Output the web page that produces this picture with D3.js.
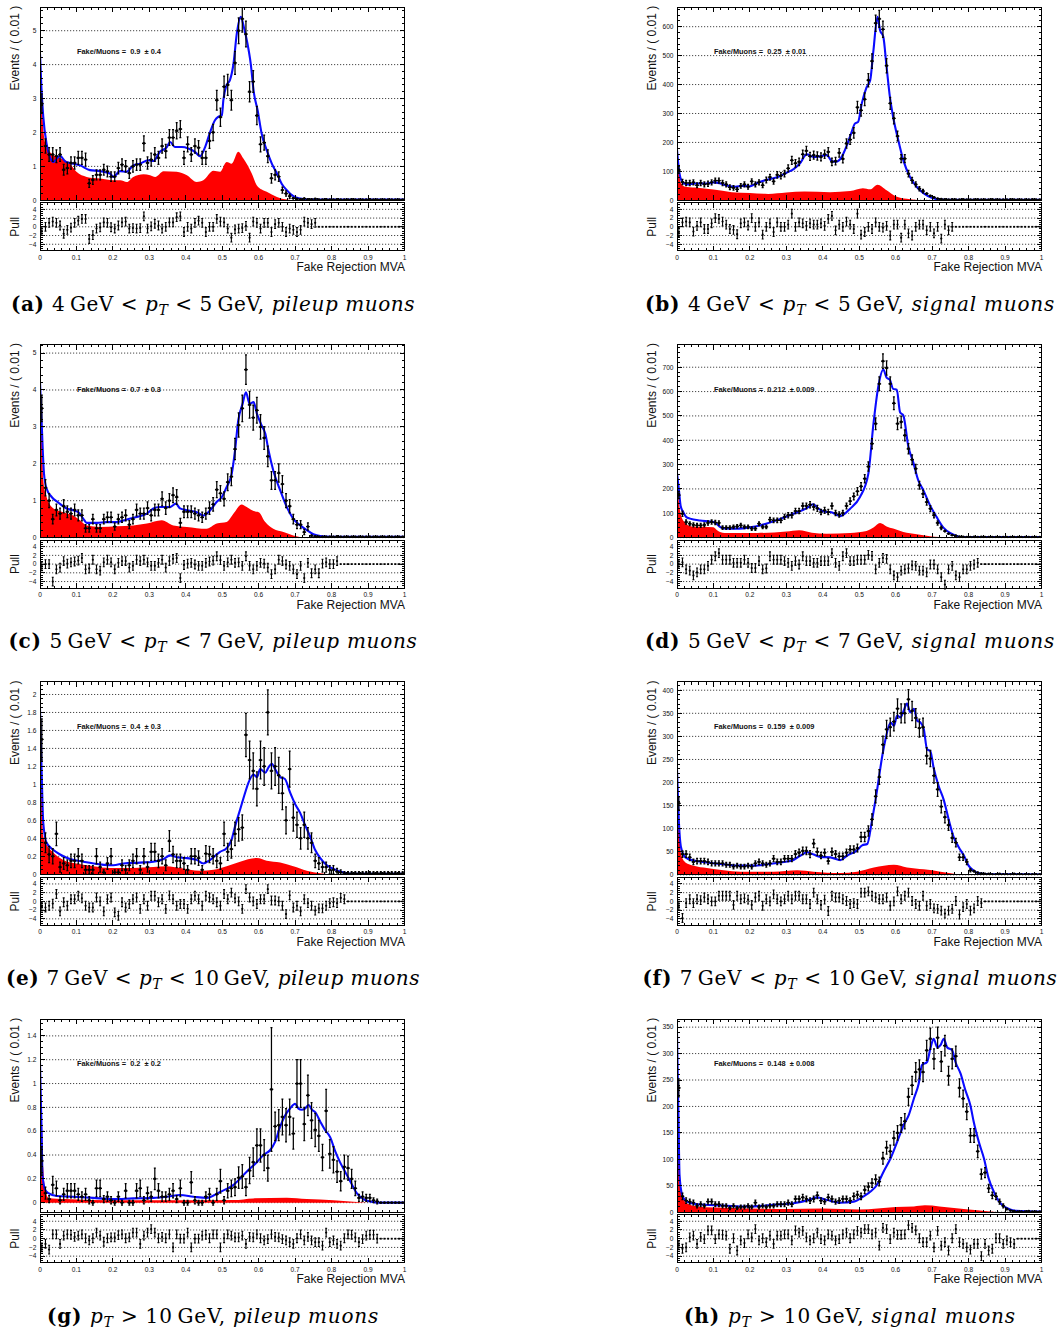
<!DOCTYPE html>
<html><head><meta charset="utf-8">
<script src="https://cdn.jsdelivr.net/npm/d3@7"></script>
<style>
html,body{margin:0;padding:0;background:#fff;}
svg{display:block;}
text{font-family:"Liberation Sans",Arial,sans-serif;}
</style></head><body>
<svg id="fig" width="1062" height="1331"></svg>
<script>
// ---- Fake Rejection MVA fits: 100 bins of width 0.01 on [0,1] ----
const BIN_W = 0.01;

// (a) 4 < pT < 5 GeV, pileup muons
const dataA = [2.85,1.6,1.35,1.35,1.3,1.35,0.9,0.95,1.1,1.1,1.25,1.25,1.2,0.5,0.6,0.75,0.75,0.9,0.85,0.7,0.7,0.95,1.05,1.0,0.8,1.0,1.05,1.05,1.68,1.1,1.2,1.35,1.25,1.6,1.45,1.85,1.85,2.05,2.1,1.25,1.65,1.35,1.6,1.55,1.25,1.25,1.75,2.0,2.95,2.45,3.35,3.4,2.95,4.05,5.0,5.35,4.9,3.2,3.5,2.5,1.65,1.7,1.3,0.65,0.75,0.7,0.3,0.2,0.12,0.06,0.04,0.03,0.05,0.03,0.03,0.04,0.02,0.02,0.03,0.02,0.02,0.03,0.02,0.02,0.02,0.03,0.02,0.02,0.02,0.02,0.03,0.02,0.02,0.02,0.02,0.02,0.02,0.02,0.02,0.02];
const errA = [0.29,0.21,0.2,0.2,0.19,0.2,0.16,0.17,0.18,0.18,0.19,0.19,0.19,0.12,0.13,0.15,0.15,0.16,0.16,0.14,0.14,0.17,0.17,0.17,0.15,0.17,0.17,0.17,0.22,0.18,0.19,0.2,0.19,0.21,0.2,0.23,0.23,0.24,0.25,0.19,0.22,0.2,0.21,0.21,0.19,0.19,0.22,0.24,0.29,0.27,0.31,0.31,0.29,0.34,0.38,0.39,0.38,0.3,0.32,0.27,0.22,0.22,0.19,0.14,0.15,0.14,0.09,0.08,0.06,0.04,0.03,0.03,0.04,0.03,0.03,0.03,0.02,0.02,0.03,0.02,0.02,0.03,0.02,0.02,0.02,0.03,0.02,0.02,0.02,0.02,0.03,0.02,0.02,0.02,0.02,0.02,0.02,0.02,0.02,0.02];
const pullA = [-1,0,0.9,1.2,0.9,0.3,-1.6,-0.7,-0.2,0.9,1.4,1.8,1.8,-2.8,-1.9,-0.4,-0.15,1.0,0.9,-0.1,-0.4,0.3,1,1.2,-0.4,-0.3,-0.4,-0.3,2.4,-0.4,0.1,0.7,0.3,-0.4,0,1,1,2.2,2.4,-1.2,0,-0.4,0.9,1.4,0.9,-1.2,0,0,1.8,1.2,1,-0.4,-2.5,-0.6,-0.4,-0.3,0.2,-2.5,1.2,0.9,-0.4,0.9,0.9,-1.2,0.6,0.9,0,-1.2,-0.4,-0.7,-1.2,-0.7,1.2,0.9,0.6,0.9];
const fitA = [[0,4.33],[0.004,3.3],[0.009,2.46],[0.018,1.67],[0.027,1.28],[0.037,1.13],[0.046,1.23],[0.055,1.31],[0.069,1.15],[0.082,1.1],[0.11,1.03],[0.137,0.89],[0.165,0.86],[0.192,0.79],[0.201,0.69],[0.22,0.86],[0.238,0.84],[0.256,1.03],[0.274,1.08],[0.297,1.18],[0.311,1.16],[0.329,1.43],[0.348,1.57],[0.357,1.72],[0.37,1.57],[0.389,1.57],[0.407,1.53],[0.425,1.43],[0.439,1.3],[0.453,1.57],[0.467,2.02],[0.48,2.36],[0.489,2.46],[0.499,2.51],[0.503,2.95],[0.512,3.4],[0.521,3.54],[0.531,4.04],[0.54,4.92],[0.551,5.41],[0.56,5.07],[0.569,4.63],[0.578,4.04],[0.587,3.15],[0.597,2.66],[0.608,1.97],[0.622,1.48],[0.636,1.08],[0.65,0.79],[0.663,0.49],[0.677,0.3],[0.695,0.12],[0.714,0.05],[0.74,0.02],[1,0.02]];
const bkgA = [[0,4.33],[0.005,3.0],[0.01,1.97],[0.018,1.57],[0.037,1.33],[0.065,1.2],[0.08,1.1],[0.1,0.84],[0.128,0.69],[0.165,0.64],[0.2,0.59],[0.22,0.59],[0.238,0.54],[0.256,0.69],[0.284,0.77],[0.302,0.74],[0.316,0.69],[0.339,0.86],[0.375,0.84],[0.403,0.74],[0.43,0.54],[0.448,0.59],[0.476,0.87],[0.494,0.84],[0.512,1.13],[0.526,1.08],[0.544,1.43],[0.558,1.23],[0.581,0.79],[0.595,0.44],[0.622,0.25],[0.65,0.1],[0.677,0.02],[0.7,0],[1,0]];

// (b) 4 < pT < 5 GeV, signal muons
const dataB = [105,63,60,60,62,52,60,55,57,62,68,68,60,55,45,43,38,50,55,47,65,55,62,52,70,80,65,88,85,92,110,138,128,133,159,171,152,156,153,150,159,167,133,135,164,143,196,210,233,321,311,349,415,481,612,627,591,465,335,283,222,144,144,92,69,55,40,32,23,15,10,6,4,3,2,3,2,2,3,2,2,2,3,2,2,2,3,2,2,2,2,3,2,2,2,2,2,3,2,2];
const errB = [12,9,9,9,9,8,9,9,9,9,9,9,9,9,8,8,7,8,9,8,9,9,9,8,10,10,9,11,11,11,12,14,13,13,14,15,14,14,14,14,14,15,13,13,15,14,16,17,18,21,20,22,23,25,28,29,28,25,21,19,17,14,14,11,10,9,7,6,5,4,3.5,3,2.2,2,1.6,2,1.6,1.6,2,1.6,1.6,1.6,2,1.6,1.6,1.6,2,1.6,1.6,1.6,1.6,2,1.6,1.6,1.6,1.6,1.6,2,1.6,1.6];
const pullB = [-1.2,1.0,1.2,1.0,-1.1,0.2,1.0,-0.5,-0.5,0.8,2.0,1.8,1.2,0.5,-0.5,-0.7,-1.7,0.8,1.0,0.3,2.0,0.0,1.0,-1.8,0.0,0.8,-1.2,1.0,0.0,0.0,0.5,3.0,0.0,1.0,0.8,0.2,0.8,0.5,0.5,0.8,0.2,1.8,2.5,-0.8,0.5,0.0,1.2,0.5,-0.5,3.0,-1.8,-1.2,0.0,-0.5,1.0,0.0,-0.2,0.2,-2.0,0.5,0.5,-2.5,0.5,-1.5,-2.0,0.0,0.5,0.5,-0.8,0.0,-1.5,0.0,-2.7,0.5,-0.8,0.0];
const fitB = [[0,175],[0.005,110],[0.01,75],[0.02,58],[0.03,55],[0.05,58],[0.08,58],[0.1,62],[0.12,58],[0.14,50],[0.16,47],[0.18,50],[0.2,48],[0.22,60],[0.25,72],[0.28,82],[0.3,95],[0.32,108],[0.337,127],[0.356,159],[0.374,150],[0.392,152],[0.411,156],[0.424,136],[0.436,133],[0.452,150],[0.466,190],[0.479,236],[0.488,265],[0.497,271],[0.507,335],[0.52,390],[0.53,415],[0.539,519],[0.55,634],[0.557,588],[0.566,565],[0.575,461],[0.584,358],[0.593,288],[0.607,208],[0.621,138],[0.639,81],[0.658,46],[0.676,25],[0.699,9],[0.72,3],[0.76,2],[1,2]];
const bkgB = [[0,167],[0.005,110],[0.01,62],[0.02,48],[0.05,44],[0.1,37],[0.15,28],[0.2,25],[0.25,22],[0.3,27],[0.35,30],[0.42,28],[0.475,32],[0.51,42],[0.53,38],[0.55,54],[0.575,35],[0.6,14],[0.63,5],[0.66,1],[0.7,0],[1,0]];

// (c) 5 < pT < 7 GeV, pileup muons
const dataC = [3.5,1.35,1.0,0.5,0.75,0.65,0.85,0.7,0.65,0.75,0.6,0.6,0.25,0.25,0.5,0.25,0.25,0.5,0.55,0.55,0.3,0.5,0.55,0.6,0.35,0.5,0.75,0.65,0.65,0.8,0.6,0.75,0.75,1.05,0.8,1.0,1.15,1.1,0.4,0.7,0.7,0.7,0.65,0.6,0.55,0.65,0.8,0.9,1.3,1.2,1.05,1.5,1.65,2.4,3.05,3.5,4.55,3.6,3.25,3.45,3.0,2.7,2.2,1.55,1.55,1.75,1.45,1.0,0.85,0.5,0.35,0.35,0.15,0.3,0.05,0.03,0.02,0.02,0.02,0.02,0.02,0.03,0.02,0.02,0.02,0.02,0.02,0.02,0.02,0.02,0.02,0.02,0.02,0.02,0.02,0.02,0.02,0.02,0.02,0.02];
const errC = [0.36,0.22,0.19,0.13,0.16,0.15,0.18,0.16,0.15,0.16,0.15,0.15,0.1,0.1,0.13,0.1,0.1,0.13,0.14,0.14,0.1,0.13,0.14,0.15,0.11,0.13,0.16,0.15,0.15,0.17,0.15,0.16,0.16,0.19,0.17,0.19,0.2,0.2,0.12,0.16,0.16,0.16,0.15,0.15,0.14,0.15,0.17,0.18,0.22,0.21,0.19,0.23,0.24,0.29,0.33,0.36,0.4,0.36,0.34,0.35,0.33,0.31,0.28,0.24,0.24,0.25,0.23,0.19,0.18,0.13,0.11,0.11,0.07,0.1,0.04,0.03,0.03,0.03,0.03,0.03,0.03,0.03,0.03,0.03,0.03,0.03,0.03,0.03,0.03,0.03,0.03,0.03,0.03,0.03,0.03,0.03,0.03,0.03,0.03,0.03];
const pullC = [-0.5,0,0,-4,-1.2,-0.8,0.7,0.1,0.4,0.6,0.8,1.4,-1.2,-1,1,-1.2,-1.5,0.4,1,0.4,-1.2,0.3,0.7,0.7,-0.8,-0.4,1,0.7,1,0.4,-0.4,-0.4,0.3,1,-0.8,0.7,1.2,1.4,-3.2,-0.2,0.1,0.3,-0.1,-0.4,-0.4,0.3,0.6,0.8,1.8,0.9,-0.4,0.4,1,0.3,0.4,-0.4,1.8,-0.4,-1.2,-0.4,0.3,0.1,-0.8,-2.3,-1.2,1,0.7,-0.1,-0.4,-1.2,-2.3,-0.4,-3.2,0.3,-2.1,-1.2,-2.1,0.1,0.4,0,0,0.7];
const fitC = [[0,4.21],[0.005,3.0],[0.011,1.73],[0.018,1.33],[0.032,1.1],[0.05,0.95],[0.073,0.79],[0.091,0.74],[0.105,0.69],[0.119,0.51],[0.128,0.4],[0.156,0.4],[0.183,0.42],[0.21,0.42],[0.238,0.49],[0.265,0.56],[0.293,0.65],[0.311,0.79],[0.329,0.83],[0.357,0.83],[0.373,0.92],[0.384,0.79],[0.403,0.74],[0.43,0.69],[0.448,0.6],[0.467,0.74],[0.485,0.97],[0.499,1.1],[0.512,1.37],[0.526,1.73],[0.535,2.36],[0.544,3.18],[0.556,3.63],[0.565,3.94],[0.575,3.63],[0.586,3.67],[0.595,3.36],[0.608,3.04],[0.618,2.82],[0.627,2.36],[0.64,1.82],[0.659,1.28],[0.677,0.83],[0.695,0.51],[0.714,0.33],[0.732,0.2],[0.75,0.09],[0.769,0.04],[0.8,0.02],[1,0.02]];
const bkgC = [[0,4.2],[0.005,3.1],[0.009,1.55],[0.018,1.1],[0.037,0.79],[0.064,0.69],[0.091,0.6],[0.11,0.47],[0.128,0.33],[0.165,0.29],[0.21,0.31],[0.256,0.33],[0.293,0.38],[0.334,0.47],[0.366,0.33],[0.403,0.29],[0.457,0.24],[0.485,0.38],[0.512,0.42],[0.531,0.65],[0.553,0.9],[0.567,0.83],[0.586,0.72],[0.6,0.69],[0.618,0.42],[0.64,0.24],[0.668,0.15],[0.695,0.06],[0.73,0],[1,0]];

// (d) 5 < pT < 7 GeV, signal muons
const dataD = [175,98,64,57,52,50,50,52,60,64,62,60,41,41,41,44,46,50,44,44,37,37,57,44,44,74,71,71,71,85,92,92,109,109,130,130,135,126,120,105,112,105,130,101,95,101,130,150,169,190,210,242,292,386,468,632,725,697,632,552,468,475,420,365,320,283,215,180,146,119,92,60,40,27,16,10,8,4,3,2,2,3,2,3,2,2,2,2,2,2,2,2,2,2,2,2,2,2,2,2];
const errD = [15,11,9,8,8,8,8,8,9,9,9,9,7,7,7,7,7,8,7,7,7,7,8,7,7,9,9,9,9,10,11,11,11,11,12,12,13,12,12,11,12,11,12,11,11,11,12,13,14,15,16,17,19,21,24,28,30,29,28,26,24,24,23,21,20,18,16,15,13,12,11,9,7,6,4,3.5,3,2,2,1.6,1.6,2,1.6,2,1.6,1.6,1.6,1.6,1.6,1.6,1.6,1.6,1.6,1.6,1.6,1.6,1.6,1.6,1.6,1.6];
const pullD = [0,0.4,-1.2,-1.5,-2.6,-1.9,-1.2,-1.2,-0.4,1,1.8,2.5,1,1,1,0.3,0.3,0.3,1,0.3,-0.9,-0.9,0.7,-1.2,-1,1.8,1,1,1,0.7,0.3,-0.4,0.7,-0.1,1.8,0.7,0.7,0.3,0.3,0.7,0.7,0.7,2.5,0.3,-0.4,1.8,2.5,0.7,0.7,1,1,1,2.1,1.9,-1.2,0.3,1.4,1.2,-1.2,-2.6,-3,-1.5,-1.2,-1,-0.3,-0.4,-1.5,-1.5,-1.9,-0.1,-0.1,-1.2,-3.0,-4.7,-1.2,-0.4,-2.6,-3,-1.2,-1.2,-0.4,-0.1,0.3];
const fitD = [[0,265],[0.005,200],[0.01,130],[0.017,105],[0.025,85],[0.036,78],[0.063,70],[0.09,66],[0.1,64],[0.11,55],[0.118,44],[0.13,38],[0.17,37],[0.2,42],[0.228,50],[0.273,71],[0.319,98],[0.356,121],[0.374,137],[0.388,119],[0.41,105],[0.42,105],[0.448,89],[0.475,119],[0.502,167],[0.525,263],[0.539,468],[0.552,618],[0.566,690],[0.575,657],[0.584,648],[0.593,611],[0.603,608],[0.612,515],[0.621,502],[0.635,372],[0.648,310],[0.662,235],[0.676,194],[0.694,133],[0.712,85],[0.731,41],[0.749,19],[0.767,7],[0.785,2],[1,2]];
const bkgD = [[0,250],[0.005,150],[0.01,98],[0.02,65],[0.04,46],[0.1,43],[0.11,30],[0.13,19],[0.22,19],[0.3,25],[0.335,30],[0.37,20],[0.41,16],[0.475,19],[0.52,27],[0.539,41],[0.557,60],[0.575,46],[0.593,37],[0.621,23],[0.658,14],[0.694,6],[0.72,2],[0.75,0],[1,0]];

// (e) 7 < pT < 10 GeV, pileup muons
const dataE = [1.5,0.35,0.22,0.2,0.45,0.08,0.12,0.1,0.15,0.15,0.2,0.15,0.05,0.05,0.05,0.2,0.08,0.02,0.12,0.2,0.02,0.02,0.1,0.05,0.1,0.15,0.2,0.05,0.2,0.08,0.25,0.25,0.15,0.2,0.1,0.37,0.22,0.15,0.15,0.12,0.05,0.2,0.2,0.18,0.05,0.23,0.22,0.2,0.15,0.12,0.45,0.25,0.28,0.45,0.5,0.52,1.55,1.27,1.15,0.95,1.27,1.2,1.8,1.15,1.2,1.1,0.9,0.6,1.17,0.63,0.55,0.4,0.55,0.4,0.35,0.15,0.12,0.08,0.08,0.05,0.05,0.03,0.02,0.01,0.01,0.01,0.01,0.01,0.01,0.01,0.01,0.01,0.01,0.01,0.01,0.01,0.01,0.01,0.01,0.01];
const errE = [0.23,0.11,0.09,0.085,0.13,0.055,0.065,0.06,0.075,0.075,0.085,0.075,0.045,0.045,0.045,0.085,0.055,0.03,0.065,0.085,0.03,0.03,0.06,0.045,0.06,0.075,0.085,0.045,0.085,0.055,0.095,0.095,0.075,0.085,0.06,0.115,0.09,0.075,0.075,0.065,0.045,0.085,0.085,0.08,0.045,0.09,0.09,0.085,0.075,0.065,0.13,0.095,0.1,0.13,0.13,0.14,0.24,0.21,0.2,0.19,0.21,0.21,0.25,0.2,0.21,0.2,0.18,0.15,0.2,0.15,0.14,0.12,0.14,0.12,0.11,0.075,0.065,0.055,0.055,0.045,0.045,0.035,0.03,0.02,0.02,0.02,0.02,0.02,0.02,0.02,0.02,0.02,0.02,0.02,0.02,0.02,0.02,0.02,0.02,0.02];
const pullE = [-1.2,-1.4,-1,-0.5,1.7,-2.3,-0.2,-1,0.5,0.5,1.3,0.7,-1,-1.4,-1.4,0.9,0,-2.3,0.5,0.9,-2.5,-3.3,-0.2,-1.4,-0.6,0.5,0.9,-1.7,0.5,-1,1.3,1.3,-0.2,0.5,-1.7,1.4,0.5,-1,-0.6,-0.6,-1.7,0.5,1.3,0.5,-1,1.3,0.9,0.5,-0.2,-1,1.7,0.5,2.0,0.7,0,-1.7,2.8,0.9,0,-0.6,0.5,0.5,2.8,0.2,0.2,0,-1,-2.9,1.4,-1.4,-1,-2.3,0.5,-0.4,-1,-2.1,-1.6,-1.6,-1,-0.4,-0.2,-0.4,0.8,0.5];
const fitE = [[0,1.84],[0.005,1.06],[0.009,0.57],[0.018,0.35],[0.037,0.27],[0.055,0.22],[0.082,0.17],[0.119,0.14],[0.165,0.11],[0.201,0.1],[0.229,0.12],[0.274,0.13],[0.311,0.14],[0.339,0.17],[0.357,0.21],[0.375,0.19],[0.403,0.18],[0.43,0.16],[0.448,0.12],[0.467,0.16],[0.494,0.25],[0.512,0.29],[0.526,0.39],[0.535,0.53],[0.549,0.72],[0.563,0.91],[0.572,1.02],[0.586,1.11],[0.595,1.08],[0.604,1.17],[0.618,1.13],[0.627,1.19],[0.636,1.23],[0.645,1.17],[0.659,1.08],[0.672,1.06],[0.686,0.91],[0.7,0.78],[0.714,0.68],[0.727,0.55],[0.741,0.42],[0.755,0.27],[0.769,0.18],[0.787,0.1],[0.805,0.06],[0.833,0.02],[0.86,0.005],[1,0.005]];
const bkgE = [[0,1.84],[0.005,0.9],[0.009,0.42],[0.018,0.33],[0.037,0.24],[0.064,0.16],[0.1,0.12],[0.146,0.09],[0.192,0.07],[0.256,0.07],[0.311,0.08],[0.348,0.09],[0.384,0.07],[0.439,0.04],[0.476,0.05],[0.512,0.09],[0.549,0.14],[0.595,0.18],[0.622,0.15],[0.659,0.13],[0.695,0.09],[0.732,0.04],[0.769,0.01],[0.8,0],[1,0]];

// (f) 7 < pT < 10 GeV, signal muons
const dataF = [155,45,45,38,28,30,30,30,28,25,25,25,25,22,22,18,20,18,18,20,18,25,28,25,22,25,35,28,28,35,35,35,45,48,52,52,45,68,50,42,48,30,50,45,40,40,48,55,55,58,82,82,95,120,170,212,282,315,320,332,360,350,350,380,355,340,318,320,258,252,215,185,148,125,108,80,70,38,38,28,10,8,5,3,2,2,1,1,2,1,1,1,2,1,1,1,1,1,1,1];
const errF = [14,7,7,7,6,6,6,6,6,5.5,5.5,5.5,5.5,5,5,4.7,5,4.7,4.7,5,4.7,5.5,6,5.5,5,5.5,6.5,6,6,6.5,6.5,6.5,7.4,7.6,8,8,7.4,9,7.8,7,7.6,6,7.8,7.4,7,7,7.6,8,8,8.4,10,10,11,12,14,16,18.5,19.5,19.7,20,21,20.6,20.6,21.4,20.7,20.3,19.6,19.7,17.7,17.5,16,15,13.4,12.3,11.4,9.8,9.2,6.8,6.8,5.8,3.5,3.1,2.5,1.9,1.6,1.6,1.1,1.1,1.6,1.1,1.1,1.1,1.6,1.1,1.1,1.1,1.1,1.1,1.1,1.1];
const pullF = [-1,-3.8,-0.4,0.5,-0.4,0.5,0.3,0.9,0.5,0,0,1.3,1.3,1.3,1.3,-0.8,1.3,0.5,0.7,0.4,-0.8,0.9,1.3,-1,0.5,0,1.6,0.5,0,0.5,1.3,0.5,1.3,1.3,0.5,0.5,-0.6,2.0,0.5,-0.8,0.4,-2.2,1.3,0.9,0.9,0.5,0.1,-0.6,-0.4,-0.6,2.0,2.0,2.3,1.3,0.9,0.5,0.5,0.9,-1,0,2.3,0.5,1.3,2.0,0.1,-0.6,-1,1.3,-1,-0.6,-1.6,-1.7,-2.1,-2.8,-2.1,-1.7,0.1,-3,-1.3,-0.6,-2.1,-1.6,0.1,-0.4];
const fitF = [[0,228],[0.005,118],[0.011,60],[0.023,38],[0.046,31],[0.082,27],[0.128,23],[0.174,20],[0.21,20],[0.247,23],[0.284,27],[0.316,31],[0.339,42],[0.357,49],[0.375,44],[0.393,39],[0.421,38],[0.448,32],[0.467,42],[0.494,53],[0.508,64],[0.522,67],[0.535,118],[0.549,184],[0.563,257],[0.572,294],[0.586,330],[0.595,323],[0.604,345],[0.613,341],[0.622,356],[0.631,371],[0.64,352],[0.65,360],[0.659,334],[0.668,330],[0.677,316],[0.686,272],[0.695,268],[0.704,232],[0.718,192],[0.732,162],[0.746,118],[0.759,82],[0.773,60],[0.787,42],[0.8,20],[0.814,9],[0.833,3],[0.86,1.5],[1,1]];
const bkgF = [[0,225],[0.005,120],[0.011,45],[0.023,27],[0.046,20],[0.082,15],[0.128,10],[0.174,7],[0.265,7],[0.33,10],[0.375,7],[0.448,4],[0.494,7],[0.54,16],[0.595,22],[0.631,16],[0.677,12],[0.723,7],[0.769,1.5],[0.8,0],[1,0]];

// (g) pT > 10 GeV, pileup muons
const dataG = [0.35,0.08,0.03,0.15,0.12,0.02,0.07,0.1,0.1,0.1,0.07,0.05,0.07,0.02,0.0,0.12,0.12,0.03,0.05,0.02,0.0,0.05,0.0,0.1,0.0,0.0,0.1,0.12,0.02,0.08,0.05,0.2,0.1,0.05,0.05,0.07,0.1,0.03,0.12,0.0,0.0,0.17,0.02,0.0,0.0,0.05,0.07,0.0,0.07,0.18,0.02,0.1,0.12,0.13,0.21,0.22,0.13,0.27,0.34,0.48,0.48,0.4,0.29,0.95,0.64,0.65,0.72,0.65,0.72,0.58,1.0,1.0,0.66,0.9,0.69,0.61,0.56,0.38,0.77,0.41,0.36,0.26,0.18,0.3,0.29,0.2,0.12,0.04,0.05,0.04,0.04,0.02,0.01,0,0,0,0,0,0,0];
const errG = [0.12,0.05,0.03,0.07,0.06,0.03,0.05,0.06,0.06,0.06,0.05,0.04,0.05,0.03,0.02,0.07,0.07,0.03,0.04,0.03,0.02,0.04,0.02,0.06,0.02,0.02,0.06,0.07,0.03,0.05,0.04,0.09,0.06,0.04,0.04,0.05,0.06,0.03,0.07,0.02,0.02,0.09,0.03,0.02,0.02,0.04,0.05,0.02,0.05,0.1,0.03,0.06,0.07,0.07,0.09,0.1,0.07,0.11,0.12,0.14,0.14,0.13,0.11,0.52,0.12,0.13,0.15,0.14,0.15,0.13,0.2,0.2,0.14,0.17,0.15,0.14,0.13,0.11,0.18,0.12,0.11,0.09,0.08,0.1,0.1,0.08,0.06,0.03,0.04,0.03,0.03,0.02,0.02,0,0,0,0,0,0,0];
const pullG = [-2,-1.2,-2.5,1,1,-1.2,0.7,1,0.9,0.4,0.7,1,0.1,-0.4,0.1,1.4,0.7,-0.7,0.1,0.3,0.3,0.8,1,0.1,0.3,1.4,1.4,-1.2,0.7,1.4,2.2,1.4,0.1,0.4,0.1,1,-2,1,0,0,1.4,-2,0,0,0.7,0.9,0.1,1,1,-2,0.1,1,0.7,0.3,0.3,0.7,-1.2,0.4,0.3,1,0.1,-0.4,-0.1,1,0.4,0.3,-0.1,-0.4,-0.8,-1.2,0.1,1,-0.4,0.4,-0.4,-0.8,-0.8,-1.6,1.4,-0.8,-0.4,-1.2,-1.6,0.1,1,0.9,0.3,-0.8,-0.1,0.7,0.9,0.9,0];
const fitG = [[0,1.17],[0.004,0.65],[0.007,0.23],[0.014,0.11],[0.023,0.08],[0.046,0.056],[0.091,0.05],[0.146,0.04],[0.2,0.03],[0.256,0.036],[0.311,0.04],[0.348,0.05],[0.384,0.064],[0.421,0.05],[0.457,0.04],[0.494,0.09],[0.531,0.15],[0.567,0.26],[0.595,0.34],[0.613,0.4],[0.631,0.44],[0.645,0.51],[0.659,0.64],[0.672,0.73],[0.686,0.79],[0.7,0.83],[0.709,0.79],[0.718,0.78],[0.727,0.79],[0.737,0.82],[0.746,0.78],[0.755,0.76],[0.769,0.68],[0.782,0.61],[0.796,0.55],[0.81,0.43],[0.823,0.34],[0.837,0.26],[0.851,0.18],[0.869,0.08],[0.887,0.03],[0.906,0.01],[0.933,0],[1,0]];
const bkgG = [[0,1.17],[0.005,0.73],[0.009,0.29],[0.014,0.12],[0.023,0.04],[0.07,0.03],[0.2,0.02],[0.4,0.02],[0.531,0.022],[0.585,0.036],[0.677,0.042],[0.732,0.03],[0.805,0.02],[0.86,0.008],[0.9,0],[1,0]];

// (h) pT > 10 GeV, signal muons
const dataH = [235,30,22,20,18,12,15,12,20,20,15,15,12,12,8,12,8,10,10,12,10,18,10,12,10,12,12,15,15,15,18,15,25,25,28,25,22,25,32,22,20,28,25,20,22,25,25,22,30,33,30,42,48,55,62,58,102,122,115,140,150,165,172,218,240,265,270,265,306,328,290,330,285,315,258,290,295,235,215,190,145,145,115,72,75,45,32,30,20,12,6,3,2,1,1,1,2,1,1,1];
const errH = [17,6,5.2,4.9,4.7,3.8,4.3,3.8,4.9,4.9,4.3,4.3,3.8,3.8,3.1,3.8,3.1,3.5,3.5,3.8,3.5,4.7,3.5,3.8,3.5,3.8,3.8,4.3,4.3,4.3,4.7,4.3,5.5,5.5,5.8,5.5,5.2,5.5,6.2,5.2,4.9,5.8,5.5,4.9,5.2,5.5,5.5,5.2,6,6.3,6,7.1,7.6,8.2,8.7,8.4,11,12,11.8,13,13.5,14,14.4,16,17,18,18,18,19,20,19,20,18.6,19.5,17.7,19,19,17,16,15,13,13,11.8,9.3,9.5,7.4,6.2,6,4.9,3.8,2.7,1.9,1.6,1.1,1.1,1.1,1.6,1.1,1.1,1.1];
const pullH = [-1.5,-2.3,-2,0.3,0.7,-1.2,0.4,-0.1,1.9,1.9,-0.1,1,0.9,0.7,-2.3,0.1,-2.7,-0.4,-1,1,0.3,2.2,-0.4,0.1,-0.8,0.7,-1.2,0.7,0.7,1,1,-0.4,1.9,1.4,1.8,0.3,-0.4,0.1,1.4,-0.1,-0.4,1,0.7,-0.4,-0.1,1,1.4,0.1,1,1.8,1.4,2.2,2.2,1,1.4,-1.6,2.5,2.2,-0.1,1.4,0.9,0.9,1,3.1,2.5,1.9,0.1,-0.8,-0.8,0.7,-2,1.8,-1.6,-0.8,-2.7,0.1,2.2,-0.8,-1.2,-2,-2.5,-1.2,-1.2,-4,-1.2,-2.7,-2.3,0.1,0.1,-1.2,-0.4,-0.8,-1.2];
const fitH = [[0,340],[0.004,183],[0.007,70],[0.014,33],[0.027,20],[0.055,15],[0.128,12.6],[0.192,10.7],[0.265,14],[0.32,17],[0.357,22],[0.384,28],[0.412,23],[0.448,18],[0.485,20],[0.512,30],[0.531,39],[0.549,52],[0.567,77],[0.586,102],[0.604,133],[0.622,165],[0.636,184],[0.65,215],[0.663,243],[0.672,278],[0.686,284],[0.695,309],[0.704,328],[0.714,312],[0.723,316],[0.732,328],[0.741,312],[0.755,306],[0.764,284],[0.778,262],[0.791,231],[0.805,202],[0.814,171],[0.828,133],[0.842,102],[0.855,64],[0.869,39],[0.887,17],[0.906,7.5],[0.924,3],[1,1]];
const bkgH = [[0,335],[0.004,170],[0.007,58],[0.014,30],[0.027,17],[0.055,11],[0.15,8],[0.3,6],[0.4,7],[0.45,6],[0.5,5],[0.55,7],[0.6,10],[0.65,11],[0.68,13],[0.72,11],[0.8,5],[0.85,2],[0.9,0],[1,0]];

// axis ranges and tick settings, panels (a)..(h)
const yDomains = [[0,5.69],[0,667],[0,5.23],[0,793],[-0.007,2.14],[0,418],[-0.08,1.54],[0,365]];
const yStep = [1,100,1,100,0.2,50,0.2,50];
const ySub = [5,5,5,5,4,5,4,5];
const fakeRatio = ["0.9  \u00b1 0.4","0.25  \u00b1 0.01","0.7  \u00b1 0.3","0.212  \u00b1 0.009","0.4  \u00b1 0.3","0.159  \u00b1 0.009","0.2  \u00b1 0.2","0.148  \u00b1 0.008"];
const captionTag = ["(a)","(b)","(c)","(d)","(e)","(f)","(g)","(h)"];
const captionLow = ["4\u2009GeV < ","4\u2009GeV < ","5\u2009GeV < ","5\u2009GeV < ","7\u2009GeV < ","7\u2009GeV < ","",""];
const captionHigh = [" < 5\u2009GeV, "," < 5\u2009GeV, "," < 7\u2009GeV, "," < 7\u2009GeV, "," < 10\u2009GeV, "," < 10\u2009GeV, "," > 10\u2009GeV, "," > 10\u2009GeV, "];
const captionKind = ["pileup muons","signal muons","pileup muons","signal muons","pileup muons","signal muons","pileup muons","signal muons"];
const xTicks = [0,0.1,0.2,0.3,0.4,0.5,0.6,0.7,0.8,0.9,1];
const pullTicks = [-4,-2,0,2,4];

const panels = [
  {data:dataA, err:errA, pull:pullA, fit:fitA, bkg:bkgA},
  {data:dataB, err:errB, pull:pullB, fit:fitB, bkg:bkgB},
  {data:dataC, err:errC, pull:pullC, fit:fitC, bkg:bkgC},
  {data:dataD, err:errD, pull:pullD, fit:fitD, bkg:bkgD},
  {data:dataE, err:errE, pull:pullE, fit:fitE, bkg:bkgE},
  {data:dataF, err:errF, pull:pullF, fit:fitF, bkg:bkgF},
  {data:dataG, err:errG, pull:pullG, fit:fitG, bkg:bkgG},
  {data:dataH, err:errH, pull:pullH, fit:fitH, bkg:bkgH}
];

// ---- layout ----
const colLeft = [40, 677], frameW = 364.5;
const rowTop0 = 7.3, rowPitch = 337.3, mainH = 193, pullOff = 195.5, pullHt = 48;
const captionX = [213, 850];
const captionW = [404, 410, 409, 410, 414, 415, 332, 332];
const svg = d3.select("#fig");
const fmt = d3.format("~g");
const MAJ = 5, MIN = 2.6;

function ticksFor(dom, step, sub) {
  const major = [], minor = [];
  const ms = step / sub;
  const k0 = Math.ceil(dom[0] / ms - 1e-9), k1 = Math.floor(dom[1] / ms + 1e-9);
  for (let k = k0; k <= k1; k++) {
    const v = +(k * ms).toFixed(6);
    if (k % sub === 0) major.push(v); else minor.push(v);
  }
  return {major, minor};
}

panels.forEach((p, idx) => {
  const col = idx % 2, row = Math.floor(idx / 2);
  const x0 = colLeft[col], x1 = x0 + frameW;
  const top = rowTop0 + row * rowPitch, bot = top + mainH;
  const pTop = top + pullOff, pBot = pTop + pullHt;
  const g = svg.append("g");

  const xs = d3.scaleLinear().domain([0, 1]).range([x0, x1]);
  const ys = d3.scaleLinear().domain(yDomains[idx]).range([bot, top]);
  const yp = d3.scaleLinear().domain([-5.5, 5.5]).range([pBot, pTop]);

  const clipId = "clip" + idx;
  g.append("clipPath").attr("id", clipId).append("rect")
    .attr("x", x0).attr("y", top).attr("width", frameW).attr("height", mainH);

  // y grid (main)
  const yt = ticksFor(yDomains[idx], yStep[idx], ySub[idx]);
  g.append("g").selectAll("line").data(yt.major).join("line")
    .attr("x1", x0).attr("x2", x1).attr("y1", d => ys(d)).attr("y2", d => ys(d))
    .attr("stroke", "#333").attr("stroke-width", 0.9).attr("stroke-dasharray", "1.2,1.8");

  const plot = g.append("g").attr("clip-path", `url(#${clipId})`);
  // background component (red)
  plot.append("path").datum(p.bkg)
    .attr("d", d3.area().x(d => xs(d[0])).y0(ys(0)).y1(d => ys(d[1])).curve(d3.curveMonotoneX))
    .attr("fill", "#ff0000");
  // total fit (blue)
  plot.append("path").datum(p.fit)
    .attr("d", d3.line().x(d => xs(d[0])).y(d => ys(d[1])).curve(d3.curveMonotoneX))
    .attr("fill", "none").attr("stroke", "#0a0aff").attr("stroke-width", 2.1).attr("stroke-linejoin", "round");
  // data points with errors
  const pts = p.data.map((v, i) => ({i, v, e: p.err[i]}));
  plot.append("g").selectAll("path").data(pts).join("path")
    .attr("d", d => {
      const xa = xs(d.i * BIN_W), xb = xs((d.i + 1) * BIN_W), xc = xs((d.i + 0.5) * BIN_W);
      const y = ys(d.v), ylo = ys(d.v - d.e), yhi = ys(d.v + d.e);
      let s = `M${xa},${y}H${xb}M${xc},${yhi}V${ylo}`;
      if (ylo - yhi > 3) s += `M${xc-1},${yhi}H${xc+1}M${xc-1},${ylo}H${xc+1}`;
      return s;
    })
    .attr("stroke", "#000").attr("stroke-width", 1.25).attr("fill", "none");
  plot.append("g").selectAll("circle").data(pts).join("circle")
    .attr("cx", d => xs((d.i + 0.5) * BIN_W)).attr("cy", d => ys(d.v)).attr("r", 1.4).attr("fill", "#000");

  // frame + ticks (main)
  const ax = g.append("g").attr("stroke", "#000").attr("shape-rendering", "crispEdges");
  ax.append("rect").attr("x", x0).attr("y", top).attr("width", frameW).attr("height", mainH)
    .attr("fill", "none").attr("stroke-width", 1);
  const tickPath = [];
  yt.major.forEach(v => { const y = ys(v); tickPath.push(`M${x0},${y}h${MAJ}M${x1},${y}h${-MAJ}`); });
  yt.minor.forEach(v => { const y = ys(v); tickPath.push(`M${x0},${y}h${MIN}M${x1},${y}h${-MIN}`); });
  const xt = ticksFor([0, 1], 0.1, 5);
  [[top, 1], [bot, -1], [pTop, 1], [pBot, -1]].forEach(([yy, dir]) => {
    xt.major.forEach(v => tickPath.push(`M${xs(v)},${yy}v${dir * MAJ}`));
    xt.minor.forEach(v => tickPath.push(`M${xs(v)},${yy}v${dir * MIN}`));
  });
  const pt = ticksFor([-5.5, 5.5], 2, 4);
  pt.major.forEach(v => tickPath.push(`M${x0},${yp(v)}h${MAJ}M${x1},${yp(v)}h${-MAJ}`));
  pt.minor.forEach(v => tickPath.push(`M${x0},${yp(v)}h${MIN}M${x1},${yp(v)}h${-MIN}`));
  ax.append("path").attr("d", tickPath.join("")).attr("fill", "none").attr("stroke-width", 1);

  // y tick labels (main)
  g.append("g").selectAll("text").data(yt.major).join("text")
    .attr("x", x0 - 3.5).attr("y", d => ys(d)).attr("dy", "0.35em")
    .attr("text-anchor", "end").attr("font-size", 6.6).attr("fill", "#111").text(d => fmt(d));

  // fit result annotation
  g.append("text").attr("x", x0 + 37).attr("y", top + 47)
    .attr("font-size", 7.4).attr("font-weight", "bold").attr("fill", "#111")
    .style("white-space", "pre").text("Fake/Muons =  " + fakeRatio[idx]);

  // axis titles
  g.append("text").attr("transform", `translate(${x0 - 21},${top - 1.5}) rotate(-90)`)
    .attr("text-anchor", "end").attr("font-size", 12).attr("fill", "#111").text("Events / ( 0.01 )");
  g.append("text").attr("transform", `translate(${x0 - 21},${pTop + pullHt / 2}) rotate(-90)`)
    .attr("text-anchor", "middle").attr("font-size", 12).attr("fill", "#111").text("Pull");
  g.append("text").attr("x", x1 + 0.5).attr("y", pBot + 20.5).attr("text-anchor", "end")
    .attr("font-size", 12).attr("fill", "#111").text("Fake Rejection MVA");

  // ---- pull panel ----
  g.append("g").selectAll("line").data(pullTicks).join("line")
    .attr("x1", x0).attr("x2", x1).attr("y1", d => yp(d)).attr("y2", d => yp(d))
    .attr("stroke", "#333").attr("stroke-width", 0.9).attr("stroke-dasharray", "1.2,1.8");
  const pp = p.pull.map((v, i) => ({i, v}));
  g.append("g").selectAll("path").data(pp).join("path")
    .attr("d", d => {
      const xc = xs((d.i + 0.5) * BIN_W), yhi = yp(d.v + 1), ylo = yp(d.v - 1);
      return `M${xc},${yhi}V${ylo}M${xc-1},${yhi}H${xc+1}M${xc-1},${ylo}H${xc+1}`;
    })
    .attr("stroke", "#000").attr("stroke-width", 1.1).attr("fill", "none");
  g.append("g").selectAll("circle").data(pp).join("circle")
    .attr("cx", d => xs((d.i + 0.5) * BIN_W)).attr("cy", d => yp(d.v)).attr("r", 1.1).attr("fill", "#000");
  // empty bins beyond the last filled one sit on the zero line
  const empty = d3.range(p.pull.length, 100);
  g.append("g").selectAll("rect").data(empty).join("rect")
    .attr("x", d => xs((d + 0.5) * BIN_W) - 1).attr("y", yp(0) - 0.9).attr("width", 2).attr("height", 1.8)
    .attr("fill", "#000");
  g.append("rect").attr("x", x0).attr("y", pTop).attr("width", frameW).attr("height", pullHt)
    .attr("fill", "none").attr("stroke", "#000").attr("shape-rendering", "crispEdges");
  g.append("g").selectAll("text").data(pullTicks).join("text")
    .attr("x", x0 - 3.5).attr("y", d => yp(d)).attr("dy", "0.35em").attr("text-anchor", "end")
    .attr("font-size", 6.6).attr("fill", "#111").text(d => d < 0 ? "\u2212" + Math.abs(d) : d);
  g.append("g").selectAll("text").data(xTicks).join("text")
    .attr("x", d => xs(d)).attr("y", pBot + 8.8).attr("text-anchor", "middle")
    .attr("font-size", 6.6).attr("fill", "#111").text(d => fmt(d));

  // ---- caption ----
  const cap = svg.append("text").attr("x", captionX[col]).attr("y", top + 303.5)
    .attr("text-anchor", "middle").attr("font-size", 20).attr("fill", "#000")
    .style("font-family", "'DejaVu Serif','Liberation Serif',serif").style("white-space", "pre");
  cap.append("tspan").attr("font-weight", "bold").text(captionTag[idx] + " ");
  if (captionLow[idx]) cap.append("tspan").text(captionLow[idx]);
  cap.append("tspan").attr("font-style", "italic").text("p");
  cap.append("tspan").attr("font-style", "italic").attr("font-size", 14).attr("dy", 4).text("T");
  cap.append("tspan").attr("dy", -4).text(captionHigh[idx]);
  cap.append("tspan").attr("font-style", "italic").text(captionKind[idx]);
  // spread the glyphs so the caption spans its column width
  const natural = cap.node().getComputedTextLength();
  const nChars = cap.text().length;
  const spacing = (captionW[idx] - natural) / nChars;
  cap.style("letter-spacing", `${spacing.toFixed(2)}px`);
});
</script>
</body></html>
